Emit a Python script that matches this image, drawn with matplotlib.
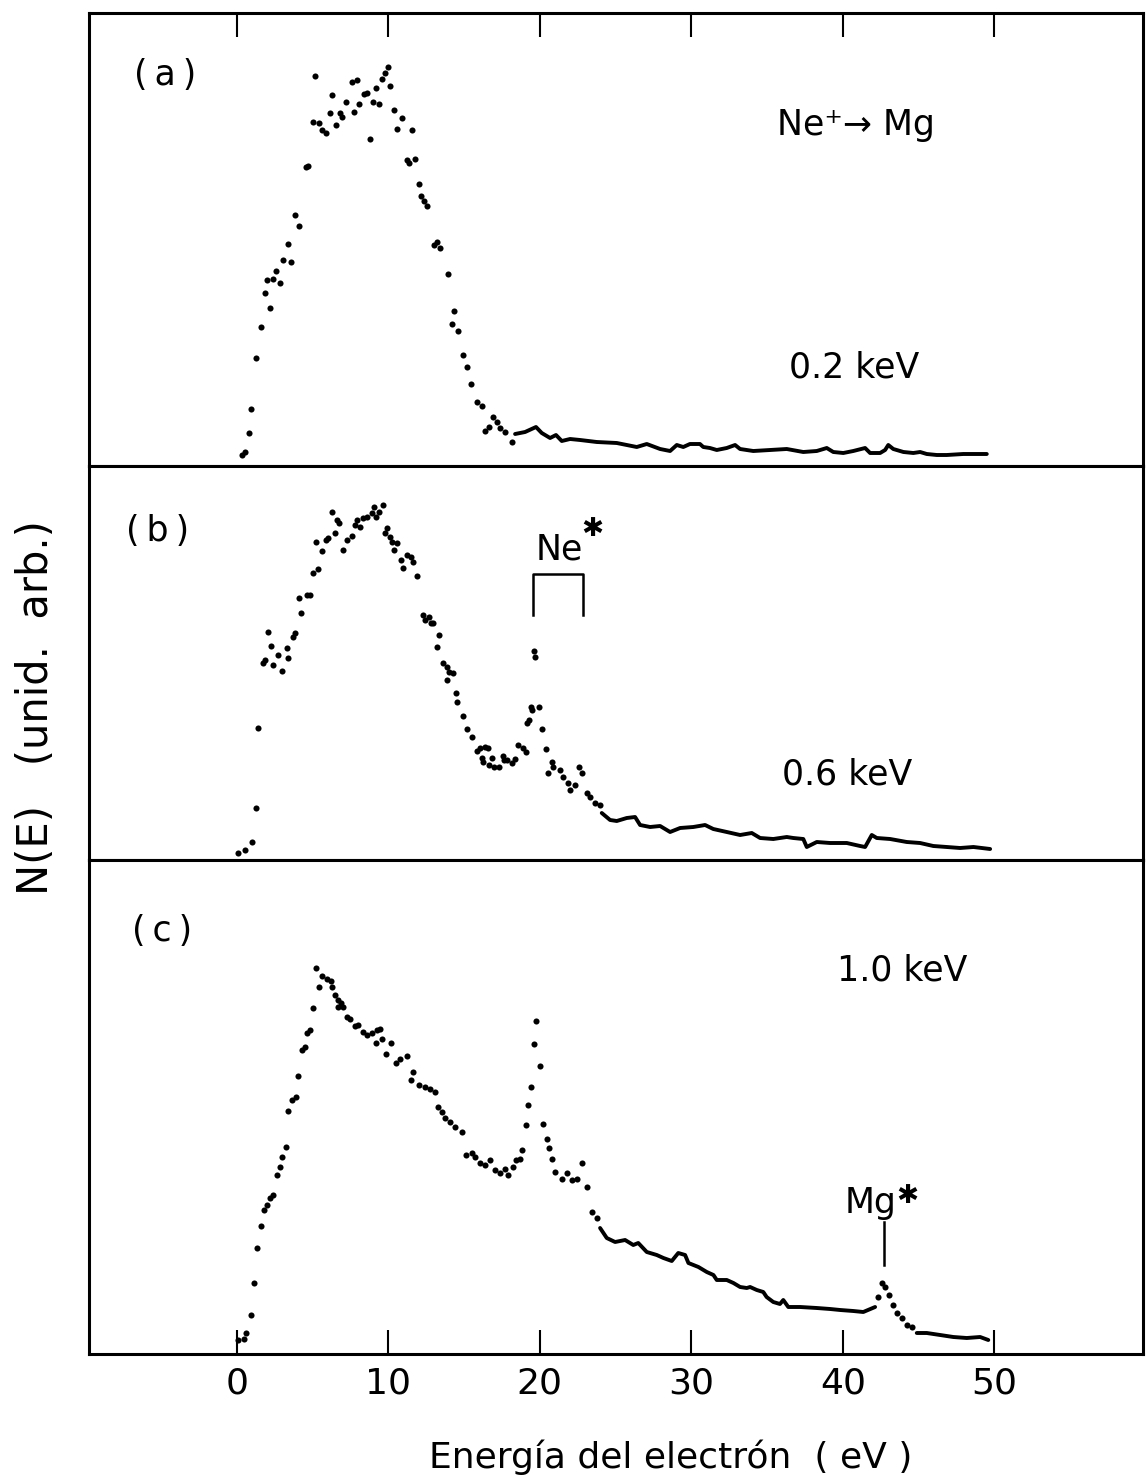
import numpy as np
import matplotlib
matplotlib.use("Agg")
import matplotlib.pyplot as plt

# ---------------- data (x: electron energy in eV, y: N(E) arbitrary units) ----------------
# panel (a) 0.2 keV
a_dot_x = [0.33, 0.55, 0.83, 0.96, 1.25, 1.60, 1.85, 2.02, 2.20, 2.38, 2.57, 2.86, 3.08, 3.41, 3.58,
           3.85, 4.13, 4.57, 4.73, 5.02, 5.17, 5.41, 5.61, 5.89, 6.16, 6.31, 6.57, 6.82, 6.95, 7.23,
           7.59, 7.72, 7.92, 8.09, 8.42, 8.58, 8.80, 9.02, 9.21, 9.39, 9.61, 9.79, 9.97, 10.14, 10.36,
           10.56, 10.89, 11.22, 11.39, 11.59, 11.77, 12.01, 12.18, 12.36, 12.54, 13.04, 13.22, 13.42,
           13.93, 14.21, 14.34, 14.61, 14.92, 15.18, 15.48, 15.84, 16.17, 16.39, 16.67, 16.90, 17.16,
           17.38, 17.71, 18.15]
a_dot_y = [11, 14, 33, 57, 108, 139, 173, 186, 158, 187, 195, 183, 206, 222, 204,
           251, 240, 299, 300, 344, 390, 343, 336, 333, 353, 371, 341, 353, 349, 364,
           384, 354, 386, 362, 372, 373, 327, 364, 378, 362, 387, 393, 399, 380, 356,
           337, 348, 306, 303, 336, 307, 282, 270, 265, 260, 221, 224, 218,
           192, 142, 155, 135, 111, 99, 82, 64, 60, 35, 39, 49, 44,
           38, 34, 24]
a_line_x = [18.37, 19.03, 19.75, 20.13, 20.68, 21.07, 21.45, 22.00, 22.66, 23.76, 25.08, 26.40,
            27.06, 27.94, 28.60, 29.04, 29.47, 29.91, 30.57, 30.79, 31.23, 31.68, 32.34, 32.89,
            33.22, 34.09, 35.20, 36.30, 37.39, 38.28, 38.94, 39.37, 40.03, 40.69, 41.47, 41.80,
            42.46, 42.79, 43.00, 43.33, 44.00, 44.65, 45.10, 45.54, 46.20, 46.86, 47.95, 49.50]
a_line_y = [32, 34, 39, 33, 28, 31, 25, 27, 26, 24, 23, 19,
            22, 17, 15, 21, 19, 22, 22, 19, 18, 16, 18, 21,
            17, 15, 16, 17, 14, 15, 18, 14, 13, 15, 18, 13,
            13, 16, 21, 17, 14, 13, 14, 12, 11, 11, 12, 12]

# panel (b) 0.6 keV
b_dot_x = [0.11, 0.55, 0.99, 1.25, 1.43, 1.72, 1.87, 2.09, 2.24, 2.42,
           2.75, 2.97, 3.30, 3.41, 3.70, 3.85, 4.13, 4.24, 4.66, 4.84,
           5.02, 5.23, 5.39, 5.61, 5.89, 6.05, 6.27, 6.49, 6.60, 6.77,
           7.00, 7.26, 7.59, 7.81, 7.96, 8.14, 8.36, 8.58, 8.91, 9.06,
           9.19, 9.41, 9.64, 9.79, 9.90, 10.12, 10.23, 10.38, 10.56, 10.82,
           10.96, 11.22, 11.48, 11.62, 11.92, 12.32, 12.43, 12.71, 12.80, 12.98,
           13.24, 13.37, 13.64, 13.86, 13.90, 14.03, 14.26, 14.47, 14.56, 14.92,
           15.22, 15.51, 15.84, 16.06, 16.17, 16.28, 16.39, 16.61, 16.67, 16.83,
           16.98, 17.33, 17.60, 17.64, 17.82, 18.15, 18.37, 18.59, 18.92, 19.09,
           19.18, 19.31, 19.40, 19.47, 19.62, 19.69, 19.97, 20.13, 20.41, 20.57,
           20.79, 20.90, 21.34, 21.55, 21.88, 22.00, 22.33, 22.61, 22.77, 23.10,
           23.32, 23.65, 23.98]
b_dot_y = [7, 10, 18, 52, 132, 197, 200, 228, 214, 195,
           205, 189, 212, 202, 223, 227, 262, 247, 265, 265,
           287, 318, 291, 309, 320, 322, 348, 327, 340, 337,
           310, 320, 324, 335, 340, 333, 342, 343, 347, 353,
           343, 348, 355, 327, 332, 323, 318, 310, 317, 300,
           292, 305, 303, 298, 284, 245, 240, 243, 237, 237,
           213, 225, 197, 180, 193, 188, 187, 167, 158, 144,
           131, 123, 109, 112, 102, 98, 113, 112, 95, 102,
           93, 93, 104, 100, 100, 97, 101, 115, 112, 108,
           137, 140, 153, 150, 209, 203, 153, 131, 111, 87,
           98, 93, 90, 83, 77, 70, 75, 93, 87, 67,
           63, 57, 55]
b_line_x = [24.09, 24.64, 25.08, 25.74, 26.29, 26.62, 27.28, 27.94, 28.60, 29.26,
            30.13, 30.91, 31.45, 32.34, 33.22, 33.99, 34.54, 35.41, 36.30, 36.73,
            37.39, 37.62, 38.28, 39.16, 40.26, 41.14, 41.47, 41.91, 42.24, 43.12,
            44.22, 45.10, 45.97, 46.86, 47.74, 48.62, 49.72]
b_line_y = [47, 40, 39, 42, 43, 35, 33, 34, 28, 32,
            33, 35, 31, 28, 25, 27, 22, 21, 23, 22,
            21, 13, 18, 17, 17, 14, 13, 25, 22, 21,
            18, 17, 14, 13, 12, 13, 11]

# panel (c) 1.0 keV
c_dot_x = [0.11, 0.48, 0.61, 0.92, 1.16, 1.36, 1.60, 1.80, 1.98, 2.20,
           2.42, 2.68, 2.86, 2.97, 3.23, 3.41, 3.63, 3.91, 4.07, 4.29,
           4.51, 4.66, 4.84, 5.06, 5.23, 5.45, 5.61, 5.94, 6.20, 6.27,
           6.49, 6.67, 6.71, 6.86, 7.04, 7.30, 7.48, 7.81, 8.03, 8.32,
           8.58, 8.91, 9.19, 9.24, 9.46, 9.57, 9.83, 10.18, 10.49, 10.78,
           11.22, 11.48, 11.66, 12.05, 12.43, 12.76, 13.09, 13.31, 13.53, 13.75,
           14.08, 14.41, 14.85, 15.13, 15.51, 15.73, 16.06, 16.39, 16.72, 17.05,
           17.38, 17.71, 17.93, 18.22, 18.43, 18.70, 18.85, 19.07, 19.20, 19.44,
           19.62, 19.75, 20.02, 20.19, 20.46, 20.63, 20.79, 21.01, 21.45, 21.78,
           22.11, 22.44, 22.77, 23.10, 23.43, 23.76,
           42.34, 42.57, 42.79, 43.07, 43.29, 43.56, 43.89, 44.22, 44.55]
c_dot_y = [14, 15, 21, 39, 71, 106, 128, 144, 149, 156,
           159, 179, 187, 197, 207, 243, 254, 257, 278, 304,
           307, 321, 324, 346, 386, 367, 378, 375, 373, 367,
           359, 347, 354, 351, 347, 337, 335, 328, 329, 322,
           319, 321, 311, 324, 325, 315, 300, 311, 291, 295,
           298, 274, 282, 269, 267, 265, 262, 247, 242, 236,
           232, 227, 222, 199, 201, 197, 191, 189, 194, 184,
           181, 185, 179, 187, 194, 195, 204, 229, 249, 267,
           310, 333, 288, 230, 215, 206, 195, 182, 175, 181,
           174, 175, 191, 167, 142, 136,
           57, 71, 67, 59, 49, 41, 36, 29, 27]
c_line_x = [23.98, 24.42, 24.97, 25.63, 26.17, 26.50, 27.06, 27.72, 28.16, 28.71,
            29.14, 29.59, 29.81, 30.47, 31.02, 31.46, 31.68, 32.34, 32.78, 33.22,
            33.66, 33.88, 34.32, 34.75, 34.97, 35.41, 35.85, 36.07, 36.40, 37.18,
            38.28, 39.16, 39.82, 40.69, 41.35, 42.13]
c_line_y = [126, 116, 112, 114, 109, 111, 102, 99, 96, 93,
            101, 99, 91, 87, 82, 79, 74, 74, 71, 67,
            66, 67, 64, 62, 57, 52, 50, 54, 47, 47,
            46, 45, 44, 43, 42, 47]
c_tail_x = [44.88, 45.54, 46.42, 47.29, 48.18, 49.06, 49.60]
c_tail_y = [21, 21, 19, 17, 16, 17, 14]

xticks = [0, 10, 20, 30, 40, 50]
xtick_labels = ["0", "10", "20", "30", "40", "50"]
panel_labels = ["(\u2009a\u2009)", "(\u2009b\u2009)", "(\u2009c\u2009)"]
energy_labels = ["0.2 keV", "0.6 keV", "1.0 keV"]

# ---------------- figure ----------------
plt.rcParams['font.family'] = ['DejaVu Sans']
plt.rcParams['font.size'] = 25

W, H = 1147, 1479
fig = plt.figure(figsize=(W / 100, H / 100), dpi=100)
XMIN, XMAX = -9.75, 59.81
left = 89 / W
width = (1143 - 89) / W


def make_axes(top_px, bot_px):
    return fig.add_axes([left, 1 - bot_px / H, width, (bot_px - top_px) / H])


axa = make_axes(13, 466)
axb = make_axes(466, 860)
axc = make_axes(860, 1354)
axa.set_ylim(0, 453)
axb.set_ylim(0, 394)
axc.set_ylim(0, 494)

for ax in (axa, axb, axc):
    ax.set_xlim(XMIN, XMAX)
    ax.set_yticks([])
    ax.set_xticks(xticks)
    for s in ax.spines.values():
        s.set_linewidth(2.2)
    ax.tick_params(axis='x', direction='in', length=17, width=1.5,
                   bottom=False, top=False, labelbottom=False)

axa.tick_params(axis='x', top=True)
axc.tick_params(axis='x', bottom=True, labelbottom=True, pad=9, labelsize=26)
axc.set_xticklabels(xtick_labels)

dot_kw = dict(ls='none', marker='o', ms=4.4, mew=0, color='black')
line_kw = dict(color='black', lw=2.8, solid_joinstyle='round', solid_capstyle='round')

axa.plot(a_dot_x, a_dot_y, **dot_kw)
axa.plot(a_line_x, a_line_y, **line_kw)
axb.plot(b_dot_x, b_dot_y, **dot_kw)
axb.plot(b_line_x, b_line_y, **line_kw)
axc.plot(c_dot_x, c_dot_y, **dot_kw)
axc.plot(c_line_x, c_line_y, **line_kw)
axc.plot(c_tail_x, c_tail_y, **line_kw)

# panel annotations
axa.text(-4.73, 391, panel_labels[0], ha='center', va='center')
axb.text(-5.25, 329, panel_labels[1], ha='center', va='center')
axc.text(-4.92, 423, panel_labels[2], ha='center', va='center')

axa.text(40.84, 331, "Ne\u207a\u2192 Mg", ha='center', va='baseline')
axa.text(40.74, 88, energy_labels[0], ha='center', va='baseline')
axb.text(40.26, 76, energy_labels[1], ha='center', va='baseline')
axc.text(43.9, 373, energy_labels[2], ha='center', va='baseline')

# Ne* bracket
axb.text(21.27, 300, "Ne", ha='center', va='baseline')
axb.text(23.5, 331, "\u2731", ha='center', va='center', fontsize=19)
axb.plot([19.58, 19.58, 22.84, 22.84], [245, 286, 286, 245], color='black', lw=1.8)

# Mg* marker
axc.text(41.83, 141, "Mg", ha='center', va='baseline')
axc.text(44.25, 158, "\u2731", ha='center', va='center', fontsize=19)
axc.plot([42.73, 42.73], [89, 132], color='black', lw=1.8)

fig.text(671 / W, 1 - 1468 / H, "Energía del electrón  ( eV )", ha='center', va='baseline', fontsize=26)
fig.text(36 / W, 1 - 708 / H, "N(E)   (unid.  arb.)", rotation=90, ha='center', va='center', fontsize=30)

fig.savefig("out.png", dpi=100)
